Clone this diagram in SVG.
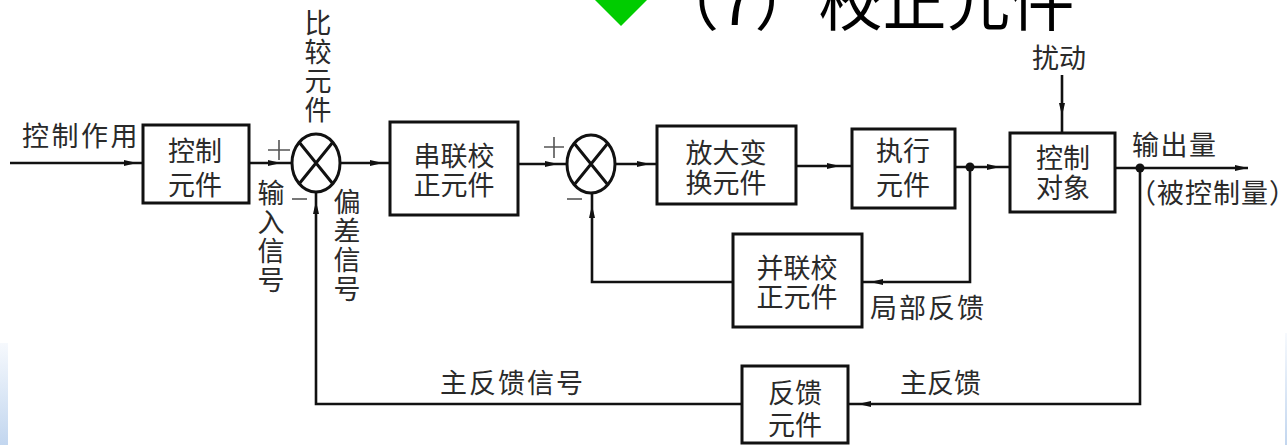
<svg xmlns="http://www.w3.org/2000/svg" width="1287" height="445" viewBox="0 0 1287 445">
<style>
  .box{fill:#fff;stroke:#111;stroke-width:3}
  .sum{fill:none;stroke:#111;stroke-width:3}
  .wire{fill:none;stroke:#111;stroke-width:2.6}
  .sign{fill:none;stroke:#555;stroke-width:1.6}
  .t{font-family:"Noto Sans CJK SC","Noto Sans",sans-serif;font-size:27px;fill:#2a2a2a}
  .c{text-anchor:middle}
  .v{writing-mode:vertical-rl;letter-spacing:2px}
  .title{font-family:"Noto Sans CJK SC","Noto Sans",sans-serif;font-size:64px;fill:#000}
</style>
<defs>
  <linearGradient id="edgeL" x1="0" y1="0" x2="0" y2="1">
    <stop offset="0" stop-color="#f6f9fd"/>
    <stop offset="1" stop-color="#c2d6ef"/>
  </linearGradient>
  <path id="ah" d="M0,0 L-13,-3 L-13,3 z" fill="#111"/>
</defs>
<rect width="1287" height="445" fill="#fff"/>
<rect x="0" y="343" width="8" height="102" fill="url(#edgeL)"/>
<rect x="1285" y="333" width="2" height="112" fill="url(#edgeL)"/>

<g id="title">
  <polygon points="621,-26 647,0 621,26 595,0" fill="#00cc00"/>
  <text class="title" x="655" y="25">（7）校正元件</text>
</g>

<g id="connectors">
  <path class="wire" d="M10,163 H143"/>
  <path class="wire" d="M249,163 H292"/>
  <path class="wire" d="M340,163 H390"/>
  <path class="wire" d="M518,164 H567"/>
  <path class="wire" d="M615,164 H657"/>
  <path class="wire" d="M796,166 H852"/>
  <path class="wire" d="M955,167 H1010"/>
  <path class="wire" d="M1115,168 H1248"/>
  <path class="wire" d="M1062,75 V133"/>
  <path class="wire" d="M970,167 V282 H862"/>
  <path class="wire" d="M733,282 H592 V193"/>
  <path class="wire" d="M1140,168 V404 H848"/>
  <path class="wire" d="M742,404 H316 V193"/>
  <use href="#ah" transform="translate(137,163)"/>
  <use href="#ah" transform="translate(281,163)"/>
  <use href="#ah" transform="translate(383,163)"/>
  <use href="#ah" transform="translate(558,164)"/>
  <use href="#ah" transform="translate(650,164)"/>
  <use href="#ah" transform="translate(840,166)"/>
  <use href="#ah" transform="translate(1000,167)"/>
  <use href="#ah" transform="translate(1248,168)"/>
  <use href="#ah" transform="translate(1062,116) rotate(90)"/>
  <use href="#ah" transform="translate(870,282) rotate(180)"/>
  <use href="#ah" transform="translate(592,205) rotate(-90)"/>
  <use href="#ah" transform="translate(858,404) rotate(180)"/>
  <use href="#ah" transform="translate(316,201) rotate(-90)"/>
  <circle cx="970" cy="167" r="4.5" fill="#111"/>
  <circle cx="1140" cy="168" r="4.5" fill="#111"/>
</g>

<g id="label-input">
  <text class="t" x="22" y="146" letter-spacing="2.5">控制作用</text>
</g>

<g id="controller">
  <rect class="box" x="143" y="125" width="106" height="78"/>
  <text class="t c"><tspan x="195" y="161">控制</tspan><tspan x="195" y="195">元件</tspan></text>
</g>

<g id="comparator">
  <ellipse class="sum" cx="316" cy="163" rx="24" ry="29"/>
  <path class="sum" d="M299,142 L333,184 M333,142 L299,184"/>
  <path class="sign" d="M268,150 H290 M279,140 V160"/>
  <path class="sign" d="M292,199 H307"/>
  <text class="t v" x="318" y="9">比较元件</text>
  <text class="t v" x="271" y="179">输入信号</text>
  <text class="t v" x="347" y="188">偏差信号</text>
</g>

<g id="series-comp">
  <rect class="box" x="390" y="122" width="128" height="93"/>
  <text class="t c"><tspan x="454" y="166">串联校</tspan><tspan x="454" y="195">正元件</tspan></text>
</g>

<g id="sum2">
  <ellipse class="sum" cx="591" cy="164" rx="24" ry="29"/>
  <path class="sum" d="M574,143 L608,185 M608,143 L574,185"/>
  <path class="sign" d="M544,147 H564 M554,137 V158"/>
  <path class="sign" d="M567,199 H582"/>
</g>

<g id="amplifier">
  <rect class="box" x="657" y="126" width="139" height="78"/>
  <text class="t c"><tspan x="726" y="163">放大变</tspan><tspan x="726" y="193">换元件</tspan></text>
</g>

<g id="actuator">
  <rect class="box" x="852" y="129" width="103" height="79"/>
  <text class="t c"><tspan x="903" y="161">执行</tspan><tspan x="903" y="195">元件</tspan></text>
</g>

<g id="plant">
  <rect class="box" x="1010" y="133" width="105" height="79"/>
  <text class="t c"><tspan x="1063" y="168">控制</tspan><tspan x="1063" y="198">对象</tspan></text>
  <text class="t" x="1032" y="68">扰动</text>
</g>

<g id="output-labels">
  <text class="t" x="1132" y="155" letter-spacing="1.5">输出量</text>
  <text class="t" x="1129" y="203" letter-spacing="1">（被控制量）</text>
</g>

<g id="parallel-comp">
  <rect class="box" x="733" y="234" width="129" height="93"/>
  <text class="t c"><tspan x="797" y="278">并联校</tspan><tspan x="797" y="307">正元件</tspan></text>
  <text class="t" x="870" y="318" letter-spacing="2">局部反馈</text>
</g>

<g id="feedback">
  <rect class="box" x="742" y="366" width="106" height="77"/>
  <text class="t c"><tspan x="795" y="403">反馈</tspan><tspan x="795" y="435">元件</tspan></text>
  <text class="t" x="900" y="393">主反馈</text>
  <text class="t" x="440" y="393" letter-spacing="2">主反馈信号</text>
</g>
</svg>
